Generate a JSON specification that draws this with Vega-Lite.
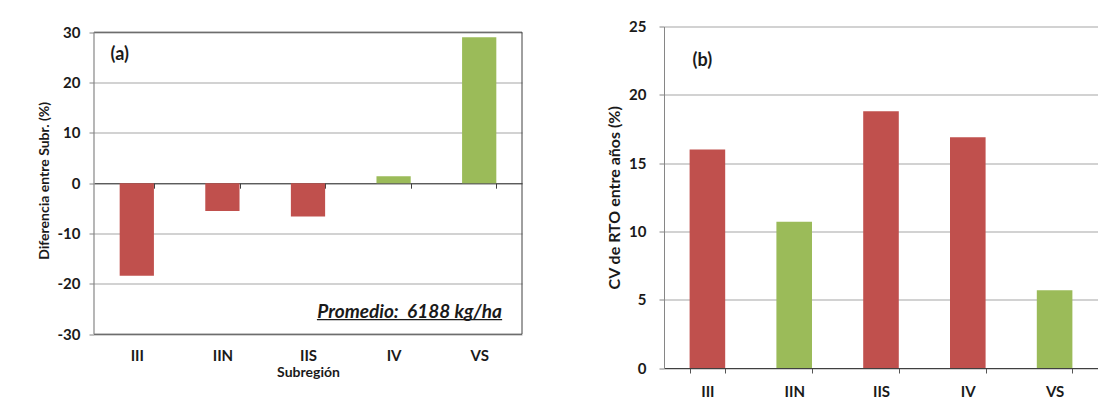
{
  "$schema": "https://vega.github.io/schema/vega-lite/v6.json",
  "padding": {"left": 37, "top": 19.5, "right": 0, "bottom": 0},
  "background": "white",
  "datasets": {
    "a": [
      {"subregion": "III", "diferencia": -18.4, "clase": "desfavorable"},
      {"subregion": "IIN", "diferencia": -5.5, "clase": "desfavorable"},
      {"subregion": "IIS", "diferencia": -6.6, "clase": "desfavorable"},
      {"subregion": "IV", "diferencia": 1.4, "clase": "favorable"},
      {"subregion": "VS", "diferencia": 29.0, "clase": "favorable"}
    ],
    "b": [
      {"subregion": "III", "cv": 16.0, "clase": "desfavorable"},
      {"subregion": "IIN", "cv": 10.7, "clase": "favorable"},
      {"subregion": "IIS", "cv": 18.8, "clase": "desfavorable"},
      {"subregion": "IV", "cv": 16.9, "clase": "desfavorable"},
      {"subregion": "VS", "cv": 5.7, "clase": "favorable"}
    ]
  },
  "spacing": 83,
  "hconcat": [
    {
      "width": 428,
      "height": 307.7,
      "data": {"name": "a"},
      "layer": [
        {
          "mark": {"type": "bar"},
          "encoding": {
            "x": {
              "field": "subregion", "type": "nominal",
              "sort": ["III", "IIN", "IIS", "IV", "VS"],
              "scale": {"paddingInner": 0.6, "paddingOuter": 0.3},
              "axis": {
                "title": "Subregión", "orient": "bottom", "offset": -151,
                "labelAngle": 0, "tickBand": "extent", "tickSize": 5,
                "tickColor": "#404040", "domainColor": "#404040",
                "labelPadding": 160, "titlePadding": 2, "titleFontSize": 14
              }
            },
            "y": {
              "field": "diferencia", "type": "quantitative",
              "scale": {"domain": [-30, 31.13], "nice": false, "zero": false},
              "axis": {
                "title": "Diferencia entre Subr. (%)",
                "values": [-30, -20, -10, 0, 10, 20, 30],
                "labelExpr": "datum.value + ''",
                "domain": false,
                "labelPadding": 9, "titlePadding": 6, "titleFontSize": 14
              }
            },
            "color": {
              "field": "clase", "type": "nominal",
              "scale": {"domain": ["desfavorable", "favorable"], "range": ["#C0504D", "#9BBB59"]},
              "legend": null
            }
          }
        },
        {
          "data": {"values": [{"limite": 30}, {"limite": -30}]},
          "mark": {"type": "rule", "color": "#404040", "strokeWidth": 1},
          "encoding": {
            "y": {"field": "limite", "type": "quantitative"}
          }
        },
        {
          "data": {"values": [{"sub": "VS", "arriba": 30, "abajo": -30}]},
          "mark": {"type": "rule", "color": "#404040", "strokeWidth": 1},
          "encoding": {
            "x": {"field": "sub", "type": "nominal", "bandPosition": 1.75},
            "y": {"field": "arriba", "type": "quantitative"},
            "y2": {"field": "abajo"}
          }
        },
        {
          "data": {"values": [{"sub": "III", "arriba": 30, "abajo": -30}]},
          "mark": {"type": "rule", "color": "#868686", "strokeWidth": 1.2},
          "encoding": {
            "x": {"field": "sub", "type": "nominal", "bandPosition": -0.75},
            "y": {"field": "arriba", "type": "quantitative"},
            "y2": {"field": "abajo"}
          }
        },
        {
          "data": {"values": [{"etiqueta": "(a)", "pos": 25.4, "sub": "III"}]},
          "mark": {"type": "text", "fontSize": 18, "fontWeight": "bold", "dx": -17, "color": "#1a1a1a"},
          "encoding": {
            "x": {"field": "sub", "type": "nominal"},
            "y": {"field": "pos", "type": "quantitative"},
            "text": {"field": "etiqueta"}
          }
        },
        {
          "data": {"values": [{"etiqueta": "Promedio:\u00a0 6188 kg/ha", "pos": -25.5, "sub": "IV"}]},
          "mark": {"type": "text", "fontSize": 19, "fontWeight": "bold", "fontStyle": "italic", "dx": 16, "color": "#1a1a1a"},
          "encoding": {
            "x": {"field": "sub", "type": "nominal"},
            "y": {"field": "pos", "type": "quantitative"},
            "text": {"field": "etiqueta"}
          }
        },
        {
          "data": {"values": [{"desde": "IIS", "hasta": "VS", "pos": -27.1}]},
          "mark": {"type": "rule", "color": "#1a1a1a", "strokeWidth": 1.3},
          "encoding": {
            "x": {"field": "desde", "type": "nominal", "bandPosition": 0.76},
            "x2": {"field": "hasta", "bandPosition": 1.17},
            "y": {"field": "pos", "type": "quantitative"}
          }
        }
      ]
    },
    {
      "width": 434,
      "height": 341.5,
      "data": {"name": "b"},
      "layer": [
        {
          "mark": {"type": "bar"},
          "encoding": {
            "x": {
              "field": "subregion", "type": "nominal",
              "sort": ["III", "IIN", "IIS", "IV", "VS"],
              "scale": {"paddingInner": 0.59, "paddingOuter": 0.295},
              "axis": {
                "title": null, "labelAngle": 0, "tickBand": "extent", "tickSize": 5,
                "tickColor": "#555555", "domainColor": "#404040",
                "labelPadding": 11
              }
            },
            "y": {
              "field": "cv", "type": "quantitative",
              "scale": {"domain": [0, 25], "nice": false},
              "axis": {
                "title": "CV de RTO entre años (%)",
                "values": [0, 5, 10, 15, 20, 25],
                "labelPadding": 13, "titlePadding": 6, "titleFontSize": 16
              }
            },
            "color": {
              "field": "clase", "type": "nominal",
              "scale": {"domain": ["desfavorable", "favorable"], "range": ["#C0504D", "#9BBB59"]},
              "legend": null
            }
          }
        },
        {
          "data": {"values": [{"etiqueta": "(b)", "pos": 22.45, "sub": "III"}]},
          "mark": {"type": "text", "fontSize": 18, "fontWeight": "bold", "dx": -5, "color": "#1a1a1a"},
          "encoding": {
            "x": {"field": "sub", "type": "nominal"},
            "y": {"field": "pos", "type": "quantitative"},
            "text": {"field": "etiqueta"}
          }
        }
      ]
    }
  ],
  "config": {
    "font": "Lato",
    "view": {"stroke": null},
    "axis": {
      "labelFont": "Lato", "labelFontWeight": "bold", "labelFontSize": 15, "labelColor": "#1a1a1a",
      "titleFont": "Lato", "titleFontWeight": "bold", "titleColor": "#1a1a1a",
      "gridColor": "#a6a6a6", "gridWidth": 1.2,
      "domainColor": "#868686", "tickColor": "#868686", "tickSize": 5
    },
    "axisX": {"grid": false},
    "axisY": {"grid": true},
    "title": {"font": "Lato"}
  }
}
